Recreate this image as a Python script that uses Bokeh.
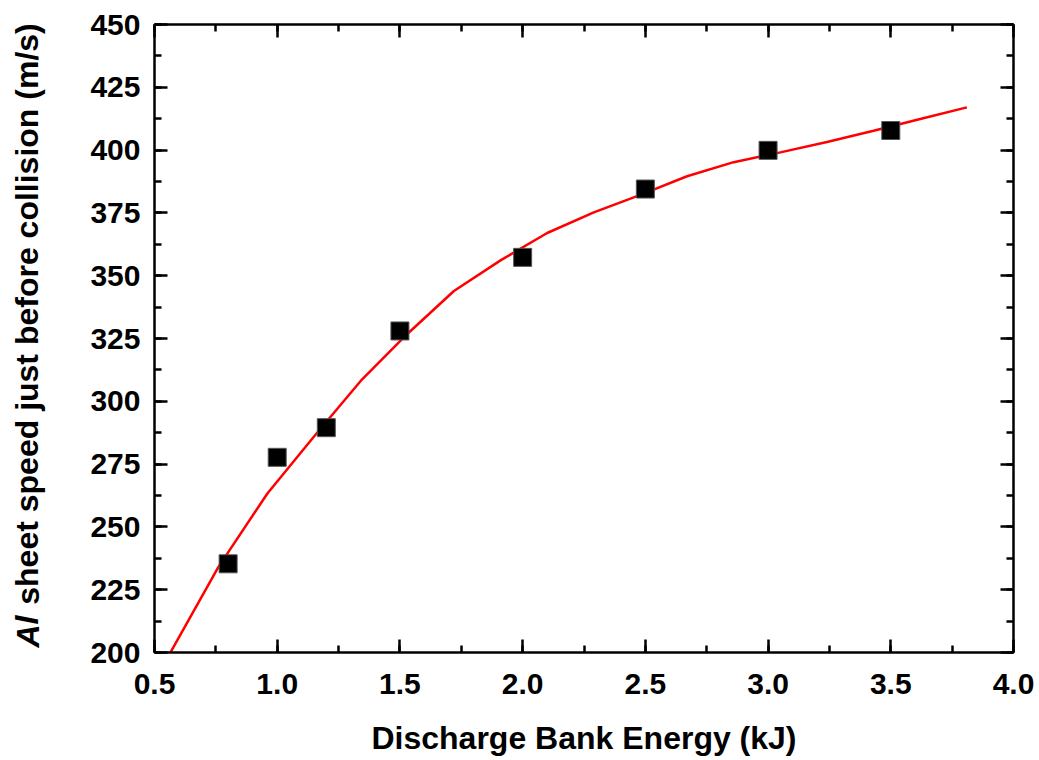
from bokeh.plotting import figure
from bokeh.layouts import row
from bokeh.models import (Range1d, LinearAxis, SingleIntervalTicker, NumeralTickFormatter,
                          CustomJSTickFormatter, Label)
from bokeh.embed import file_html
from bokeh.resources import INLINE

# measured points
energy_kj = [0.8, 1.0, 1.2, 1.5, 2.0, 2.5, 3.0, 3.5]
speed_ms = [235.3, 277.7, 289.5, 328.0, 357.3, 384.5, 399.9, 407.8]

# fitted curve
fit_x = [0.55, 0.76, 0.96, 1.15, 1.34, 1.53, 1.72, 1.91, 2.10, 2.29, 2.48,
         2.67, 2.86, 3.05, 3.24, 3.43, 3.62, 3.81]
fit_y = [197.4, 234.0, 263.3, 286.0, 308.1, 326.8, 343.9, 356.1, 367.0, 375.2,
         382.2, 389.6, 395.2, 399.1, 403.2, 407.7, 412.4, 417.0]

x_title = "Discharge Bank Energy (kJ)"
y_title_italic = "Al"
y_title_rest = "sheet speed just before collision (m/s)"

FONT = "Liberation Sans"
H = 758
WL = 60
WM = 975
TOP = 24       # frame top (page px)
BOTTOM = 655   # frame bottom (page px)

# narrow panel holding the rotated y title; its frame is aligned with the main frame,
# so its y range is expressed in page pixels (top-down)
pl = figure(width=WL, height=H, output_backend="svg", toolbar_location=None,
            x_range=Range1d(0, WL), y_range=Range1d(BOTTOM, TOP),
            x_axis_type=None, y_axis_type=None, min_border=0,
            min_border_top=TOP, min_border_bottom=H - BOTTOM)
pl.grid.visible = False
pl.outline_line_color = None
pl.add_layout(Label(x=27, y=650, text=y_title_italic, angle=1.5708, text_align="left",
                    text_baseline="middle", text_font=FONT, text_font_style="bold italic",
                    text_font_size="32px", text_color="black"))
pl.add_layout(Label(x=27, y=607, text=y_title_rest, angle=1.5708, text_align="left",
                    text_baseline="middle", text_font=FONT, text_font_style="bold",
                    text_font_size="32px", text_color="black"))

p = figure(width=WM, height=H, output_backend="svg", toolbar_location=None,
           x_range=Range1d(0.5, 4.0), y_range=Range1d(200, 450),
           min_border_left=154 - WL, min_border_right=WL + WM - 1013,
           min_border_top=TOP, min_border_bottom=H - BOTTOM,
           x_axis_type=None, y_axis_type=None)
p.grid.visible = False
p.outline_line_color = None

def style(ax, labels=True):
    ax.axis_line_width = 2.5
    ax.axis_line_color = "black"
    ax.major_tick_in = 13
    ax.major_tick_out = 0
    ax.minor_tick_in = 7
    ax.minor_tick_out = 0
    ax.major_tick_line_width = 2.5
    ax.minor_tick_line_width = 2.5
    ax.major_tick_line_color = "black"
    ax.minor_tick_line_color = "black"
    ax.major_label_text_font = FONT
    ax.major_label_text_font_style = "bold"
    ax.major_label_text_font_size = "30px"
    ax.major_label_text_color = "black"
    if not labels:
        ax.formatter = CustomJSTickFormatter(code="return ''")
        ax.major_label_standoff = 0

xt = dict(interval=0.5, num_minor_ticks=2)
yt = dict(interval=25, num_minor_ticks=2)

xb = LinearAxis(ticker=SingleIntervalTicker(**xt), formatter=NumeralTickFormatter(format="0.0"))
style(xb)
xb.major_label_standoff = 21
xb.axis_label = x_title
xb.axis_label_text_font = FONT
xb.axis_label_text_font_style = "bold"
xb.axis_label_text_font_size = "32px"
xb.axis_label_text_color = "black"
xb.axis_label_standoff = 23
p.add_layout(xb, "below")

yl = LinearAxis(ticker=SingleIntervalTicker(**yt), formatter=NumeralTickFormatter(format="0"))
style(yl)
yl.major_label_standoff = 14
p.add_layout(yl, "left")

xa = LinearAxis(ticker=SingleIntervalTicker(**xt))
style(xa, labels=False)
p.add_layout(xa, "above")

yr = LinearAxis(ticker=SingleIntervalTicker(**yt))
style(yr, labels=False)
p.add_layout(yr, "right")

p.line(fit_x, fit_y, line_color="#FF0000", line_width=2.5)
p.scatter(energy_kj, speed_ms, marker="square", size=18, fill_color="black",
          line_color="#555555", line_width=1)

layout = row(pl, p, spacing=0)
open("out.html", "w").write(file_html(layout, INLINE))
